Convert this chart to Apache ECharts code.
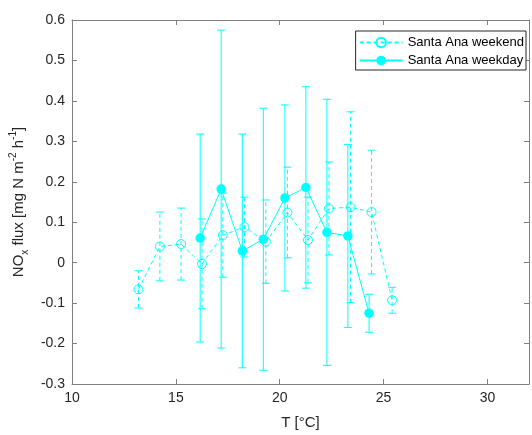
<!DOCTYPE html>
<html>
<head>
<meta charset="utf-8">
<script src="https://cdn.jsdelivr.net/npm/echarts@6/dist/echarts.min.js"></script>
<style>
  html, body { margin: 0; padding: 0; background: #fff; }
  #chart { width: 532px; height: 435px; }
</style>
</head>
<body>
<div id="chart"></div>
<script>
// NOx flux versus temperature, Santa Ana, weekend vs weekday bins (mean ± error)
const weekendT    = [13.2, 14.23, 15.25, 16.26, 17.26, 18.3, 19.33, 20.37, 21.36, 22.37, 23.41, 24.42, 25.41];
const weekendFlux = [-0.066, 0.040, 0.046, -0.003, 0.068, 0.088, 0.052, 0.124, 0.056, 0.134, 0.137, 0.125, -0.093];
const weekendErr  = [0.046, 0.085, 0.089, 0.111, 0.104, 0.074, 0.103, 0.112, 0.106, 0.115, 0.236, 0.153, 0.032];

const weekdayT    = [16.17, 17.18, 18.2, 19.21, 20.25, 21.26, 22.27, 23.28, 24.3];
const weekdayFlux = [0.061, 0.182, 0.029, 0.058, 0.160, 0.186, 0.075, 0.066, -0.125];
const weekdayErr  = [0.257, 0.393, 0.289, 0.324, 0.230, 0.249, 0.329, 0.226, 0.047];

const xTicks = [10, 15, 20, 25, 30];
const yTicks = [-0.3, -0.2, -0.1, 0, 0.1, 0.2, 0.3, 0.4, 0.5, 0.6];

const CYAN = '#00FFFF';
const AXIS = '#808080';
const TEXT = '#262626';
const FONT = 'Liberation Sans, Arial, sans-serif';

const pairs = (xs, ys) => xs.map((x, i) => [x, ys[i]]);
const bars = (xs, ys, es) => xs.map((x, i) => [x, ys[i] - es[i], ys[i] + es[i]]);

function errorBarSeries(data, dashed, z) {
  return {
    type: 'custom',
    data: data,
    z: z,
    silent: true,
    encode: { x: 0, y: [1, 2] },
    renderItem: function (params, api) {
      const x = api.value(0);
      const lo = api.coord([x, api.value(1)]);
      const hi = api.coord([x, api.value(2)]);
      const cap = 4;
      const style = { stroke: CYAN, lineWidth: 1, lineDash: dashed ? [4, 3] : null, fill: null };
      return {
        type: 'group',
        children: [
          { type: 'line', shape: { x1: lo[0], y1: lo[1], x2: hi[0], y2: hi[1] }, style: style },
          { type: 'line', shape: { x1: hi[0] - cap, y1: hi[1], x2: hi[0] + cap, y2: hi[1] }, style: { stroke: CYAN, lineWidth: 1 } },
          { type: 'line', shape: { x1: lo[0] - cap, y1: lo[1], x2: lo[0] + cap, y2: lo[1] }, style: { stroke: CYAN, lineWidth: 1 } }
        ]
      };
    }
  };
}

const xMin = xTicks[0], xStep = xTicks[1] - xTicks[0], xMax = 32;
const yMin = yTicks[0], yMax = yTicks[yTicks.length - 1], yStep = 0.1;

function xAxisDef(pos) {
  return {
    type: 'value', position: pos, min: xMin, max: xMax, interval: xStep,
    axisLine: { show: true, onZero: false, lineStyle: { color: AXIS, width: 1 } },
    axisTick: { show: true, inside: true, length: 5, lineStyle: { color: AXIS } },
    axisLabel: {
      show: pos === 'bottom', color: TEXT, fontSize: 14, fontFamily: FONT, margin: 7,
      formatter: v => (xTicks.indexOf(Math.round(v)) >= 0 && Math.abs(v - Math.round(v)) < 1e-6) ? String(Math.round(v)) : ''
    },
    splitLine: { show: false }
  };
}
function yAxisDef(pos) {
  return {
    type: 'value', position: pos, min: yMin, max: yMax, interval: yStep,
    axisLine: { show: true, onZero: false, lineStyle: { color: AXIS, width: 1 } },
    axisTick: { show: true, inside: true, length: 5, lineStyle: { color: AXIS } },
    axisLabel: {
      show: pos === 'left', color: TEXT, fontSize: 14, fontFamily: FONT, margin: 7,
      formatter: v => { const r = Math.round(v * 10) / 10; return r === 0 ? '0' : r.toFixed(1); }
    },
    splitLine: { show: false }
  };
}

const xBottom = xAxisDef('bottom');
xBottom.name = 'T [°C]';
xBottom.nameLocation = 'middle';
xBottom.nameGap = 31;
xBottom.nameTextStyle = { fontSize: 15, color: TEXT, fontFamily: FONT };

const yLeft = yAxisDef('left');
yLeft.name = 'NO{sub|x} flux [mg N m{sup|-2} h{sup|-1}]';
yLeft.nameLocation = 'middle';
yLeft.nameGap = 35;
yLeft.nameTextStyle = {
  fontSize: 15, color: TEXT, fontFamily: FONT, lineHeight: 22,
  rich: {
    sub: { fontSize: 10, color: TEXT, fontFamily: FONT, verticalAlign: 'bottom', lineHeight: 22 },
    sup: { fontSize: 10, color: TEXT, fontFamily: FONT, verticalAlign: 'top', lineHeight: 22 }
  }
};

const chart = echarts.init(document.getElementById('chart'), null, { renderer: 'canvas' });
chart.setOption({
  animation: false,
  backgroundColor: '#fff',
  textStyle: { fontFamily: FONT },
  title: {
    text: '(f) vs. T{s|g}',
    left: 250, top: -15, padding: 0,
    textStyle: { fontSize: 15, fontWeight: 'normal', color: TEXT, fontFamily: FONT,
      rich: { s: { fontSize: 10, color: TEXT, fontFamily: FONT, verticalAlign: 'bottom' } } }
  },
  grid: { left: 72, right: 2, top: 20, bottom: 47 },
  xAxis: [xBottom, xAxisDef('top')],
  yAxis: [yLeft, yAxisDef('right')],
  legend: {
    data: ['Santa Ana weekend', 'Santa Ana weekday'],
    orient: 'vertical', right: 6, top: 31,
    itemWidth: 43, itemHeight: 12, itemGap: 5,
    padding: [5, 2, 3, 3],
    borderColor: '#262626', borderWidth: 1, backgroundColor: '#fff',
    textStyle: { fontSize: 13, color: '#000', fontFamily: FONT },
    selectedMode: false
  },
  series: [
    errorBarSeries(bars(weekendT, weekendFlux, weekendErr), true, 1),
    {
      name: 'Santa Ana weekend', type: 'line', z: 2,
      data: pairs(weekendT, weekendFlux),
      symbol: 'circle', symbolSize: 9,
      itemStyle: { color: 'rgba(0,255,255,0)', borderColor: CYAN, borderWidth: 1 },
      lineStyle: { color: CYAN, width: 1, type: [4, 3] },
      emphasis: { disabled: true }
    },
    errorBarSeries(bars(weekdayT, weekdayFlux, weekdayErr), false, 3),
    {
      name: 'Santa Ana weekday', type: 'line', z: 4,
      data: pairs(weekdayT, weekdayFlux),
      symbol: 'circle', symbolSize: 9.5,
      itemStyle: { color: CYAN, borderColor: CYAN, borderWidth: 0 },
      lineStyle: { color: CYAN, width: 1, type: 'solid' },
      emphasis: { disabled: true }
    }
  ]
});
</script>
</body>
</html>
